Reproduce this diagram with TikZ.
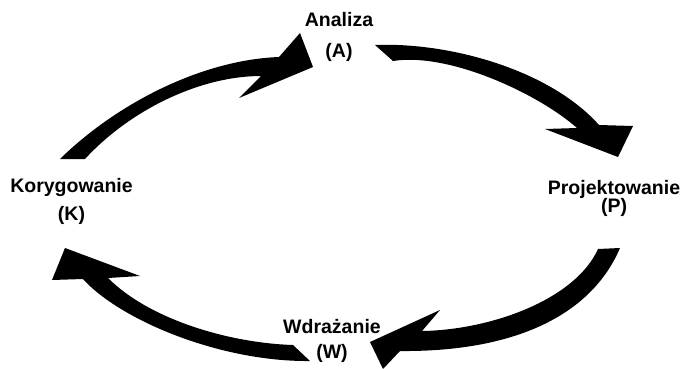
\documentclass[tikz,border=0pt]{standalone}
\usepackage{fontspec}
\setmainfont{Liberation Sans}
\begin{document}
\begin{tikzpicture}[x=1pt,y=-1pt,
  lbl/.style={anchor=base,inner sep=0pt,font=\bfseries\fontsize{19.5}{22}\selectfont},
  bigarrow/.style={fill=black,draw=none}]
\useasboundingbox (0,0) rectangle (682,369);

% stage labels
\node[lbl] (analiza) at (339,27) {Analiza};
\node[lbl] (analizaA) at (339,57) {(A)};
\node[lbl] (projekt) at (614,194) {Projektowanie};
\node[lbl] (projektP) at (614,212) {(P)};
\node[lbl] (wdraz) at (332,333) {Wdrażanie};
\node[lbl] (wdrazW) at (332,358) {(W)};
\node[lbl] (koryg) at (71.5,192) {Korygowanie};
\node[lbl] (korygK) at (71.5,220) {(K)};

% K -> A
\fill[bigarrow] (60,159) .. controls (115,105) and (200,60) .. (279,57)
  -- (300,33) -- (313,67) -- (239,98) -- (261,76)
  .. controls (200,76) and (130,110) .. (85,159) -- cycle;

% A -> P
\fill[bigarrow] (375,45) .. controls (450,42) and (550,70) .. (599,125)
  -- (633,126) -- (618,157) -- (545,129) -- (577,128)
  .. controls (540,95) and (450,52) .. (393,61) -- cycle;

% P -> W
\fill[bigarrow] (620,248) .. controls (590,318) and (510,352) .. (400,351)
  -- (383,369) -- (370,342) -- (440,310) -- (422,331)
  .. controls (490,330) and (575,300) .. (598,249) -- cycle;

% W -> K
\fill[bigarrow] (310,361) .. controls (220,362) and (120,320) .. (83,279)
  -- (52,280) -- (65,248) -- (140,276) -- (108,278)
  .. controls (150,320) and (230,343) .. (293,345) -- cycle;
\end{tikzpicture}
\end{document}
